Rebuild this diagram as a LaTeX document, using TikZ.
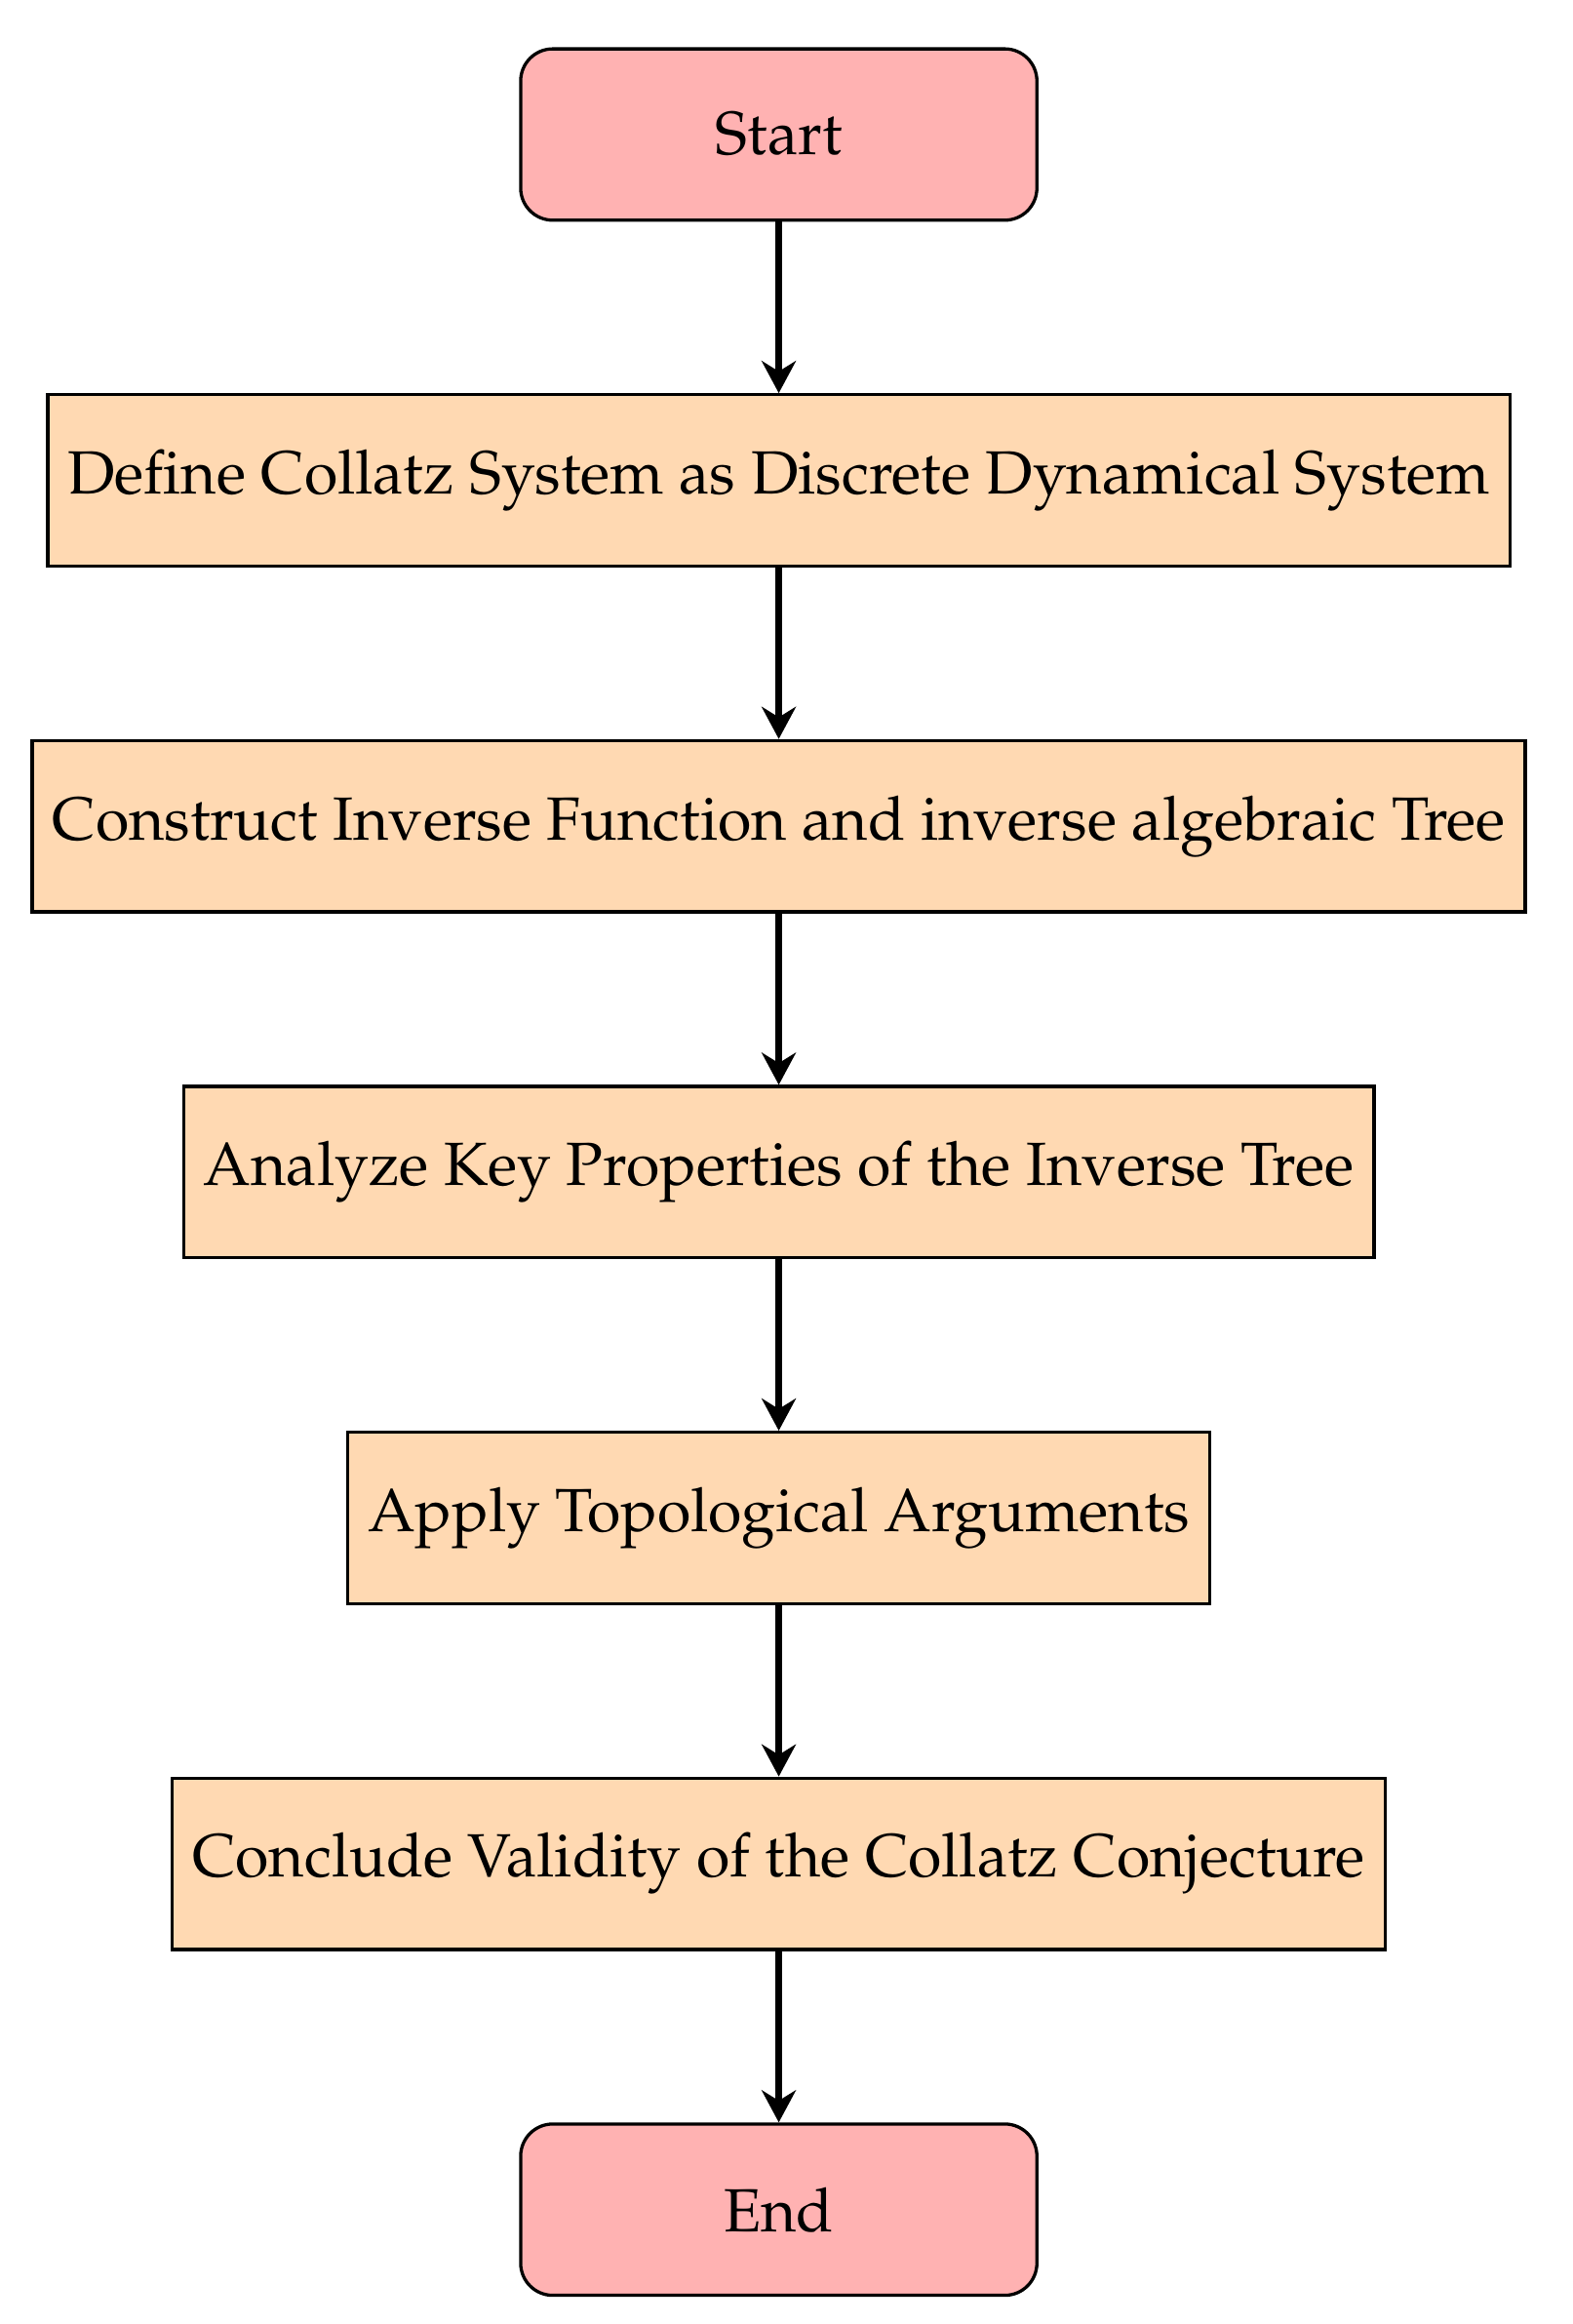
\documentclass[tikz,border=0pt]{standalone}
\usepackage[T1]{fontenc}
\usepackage{mathpazo}
\usetikzlibrary{positioning,arrows.meta}

\tikzset{
  startstop/.style={rectangle, rounded corners=8pt, minimum width=4.52cm, minimum height=1.5cm, draw=black, thick, fill=red!30, font=\fontsize{15.2}{18}\selectfont},
  process/.style={rectangle, minimum height=1.5cm, draw=black, thick, fill=orange!30, font=\fontsize{15.2}{18}\selectfont, inner sep=5pt},
  arrow/.style={ultra thick, -{Stealth[length=8pt,width=8.5pt]}}
}

\begin{document}
\begin{tikzpicture}[node distance=1.5cm]
\useasboundingbox (-6.819,1.178) rectangle (6.947,-19.17);

\node (start) [startstop] {Start};
\node (define) [process, below=of start] {Define Collatz System as Discrete Dynamical System};
\node (construct) [process, below=of define] {Construct Inverse Function and inverse algebraic Tree};
\node (analyze) [process, below=of construct] {Analyze Key Properties of the Inverse Tree};
\node (apply) [process, below=of analyze] {Apply Topological Arguments};
\node (conclude) [process, below=of apply] {Conclude Validity of the Collatz Conjecture};
\node (end) [startstop, below=of conclude] {End};

\draw [arrow] (start) -- (define);
\draw [arrow] (define) -- (construct);
\draw [arrow] (construct) -- (analyze);
\draw [arrow] (analyze) -- (apply);
\draw [arrow] (apply) -- (conclude);
\draw [arrow] (conclude) -- (end);
\end{tikzpicture}
\end{document}
